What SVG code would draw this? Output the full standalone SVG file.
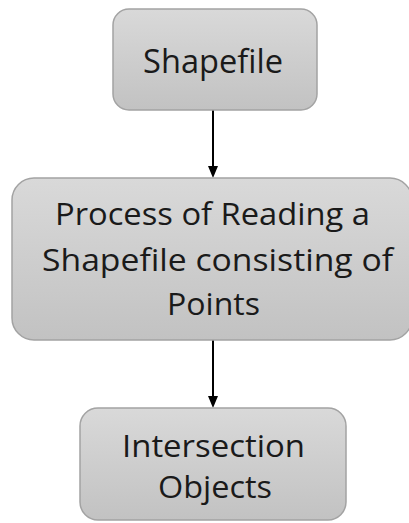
<svg xmlns="http://www.w3.org/2000/svg" width="409" height="523" viewBox="0 0 409 523">
<style>
.box{fill:url(#g);stroke:#a3a3a3;stroke-width:1.5}
.t{font-family:"Open Sans","Liberation Sans",Arial,sans-serif;font-size:30.5px;fill:#1a1a1a;text-anchor:middle}
.c{stroke:#000;stroke-width:2;fill:none}
.ah{fill:#000}
</style>
<defs>
<linearGradient id="g" x1="0" y1="0" x2="0" y2="1">
<stop offset="0" stop-color="#d9d9d9"/>
<stop offset="1" stop-color="#c2c2c2"/>
</linearGradient>
</defs>
<rect width="409" height="523" fill="#fff"/>
<g id="connectors">
<path class="c" d="M213,110 V168"/>
<path class="ah" d="M208,166 L218,166 L213,178 Z"/>
<path class="c" d="M213,340 V398"/>
<path class="ah" d="M208,396 L218,396 L213,408 Z"/>
</g>
<g id="shapefile">
<rect class="box" x="113" y="9" width="204" height="101" rx="16"/>
<text class="t" x="213" y="72.5" style="font-size:32px" textLength="140" lengthAdjust="spacingAndGlyphs">Shapefile</text>
</g>
<g id="process">
<rect class="box" x="12" y="178" width="400" height="162" rx="22"/>
<text class="t" x="212.5" y="225" textLength="315" lengthAdjust="spacingAndGlyphs">Process of Reading a</text>
<text class="t" x="217.5" y="271" textLength="351" lengthAdjust="spacingAndGlyphs">Shapefile consisting of</text>
<text class="t" x="213.5" y="315" textLength="93" lengthAdjust="spacingAndGlyphs">Points</text>
</g>
<g id="intersection">
<rect class="box" x="80" y="408" width="266" height="112" rx="18"/>
<text class="t" x="213.5" y="457" textLength="183" lengthAdjust="spacingAndGlyphs">Intersection</text>
<text class="t" x="215" y="498" textLength="114" lengthAdjust="spacingAndGlyphs">Objects</text>
</g>
</svg>
